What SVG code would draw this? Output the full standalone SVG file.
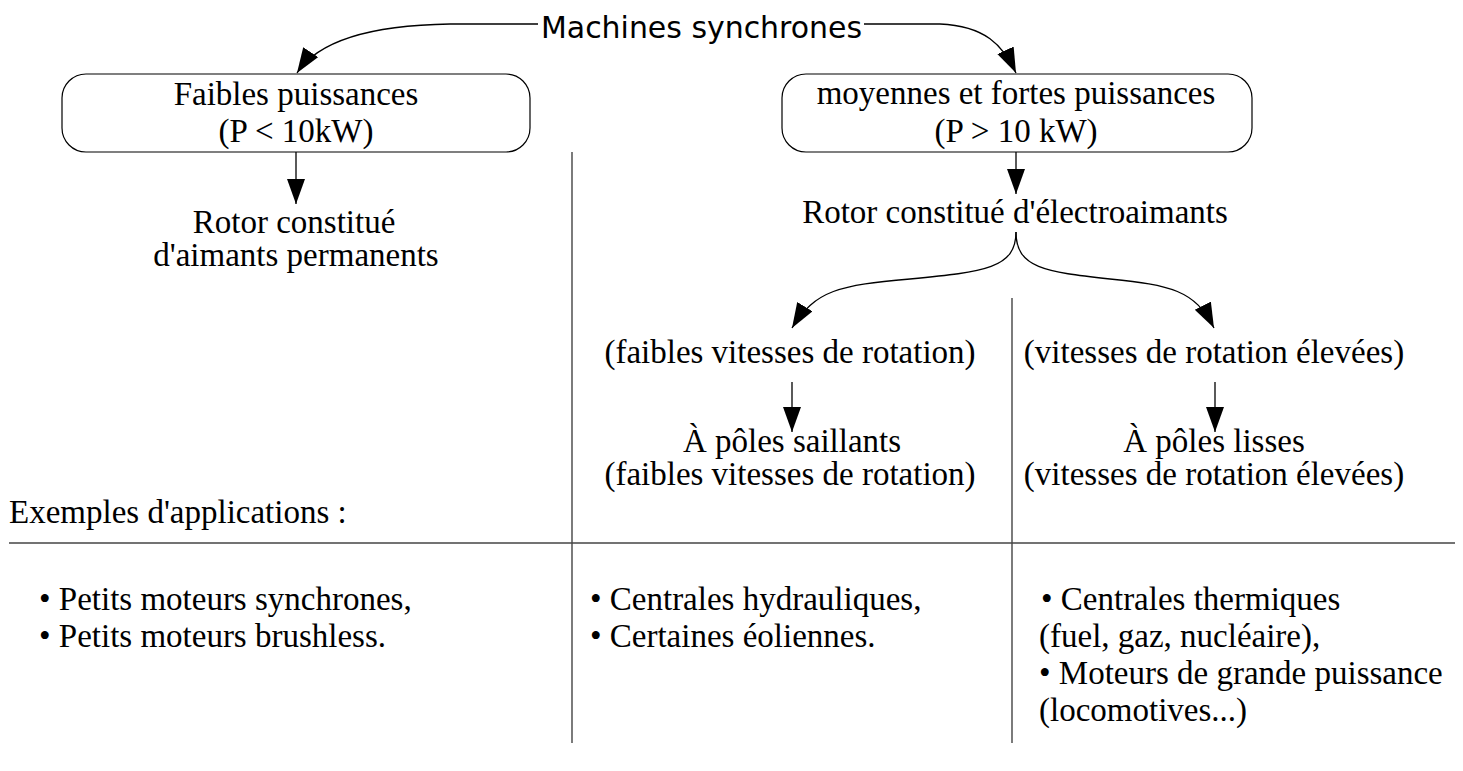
<svg xmlns="http://www.w3.org/2000/svg" width="1463" height="771" viewBox="0 0 1463 771">
<style>
.t{font-family:"Liberation Serif","Times New Roman",serif;font-size:33px;fill:#000}
.c{text-anchor:middle}
.ttl{font-family:"DejaVu Sans","Liberation Sans",sans-serif;font-size:31px;fill:#000}
.box{fill:#fff;stroke:#000;stroke-width:1.2}
.ln{fill:none;stroke:#000;stroke-width:1.3}
.div{fill:none;stroke:#444;stroke-width:1.4}
</style>
<defs>
<marker id="ah" markerUnits="userSpaceOnUse" markerWidth="28" markerHeight="20" refX="25" refY="9" orient="auto">
<path d="M0,0 L25,9 L0,18 Z" fill="#000"/>
</marker>
</defs>
<rect width="1463" height="771" fill="#fff"/>
<g id="dividers">
<line class="div" x1="572" y1="152" x2="572" y2="743"/>
<line class="div" x1="1012" y1="298" x2="1012" y2="743"/>
<line class="div" x1="9" y1="543" x2="1455" y2="543"/>
</g>
<g id="connectors">
<path class="ln" marker-end="url(#ah)" d="M538,24 L450,24 C380,25 320,38 297,73"/>
<path class="ln" marker-end="url(#ah)" d="M864,24 L940,24 C985,26 1003,45 1016,73"/>
<line class="ln" marker-end="url(#ah)" x1="296" y1="152" x2="296" y2="204"/>
<line class="ln" marker-end="url(#ah)" x1="1016" y1="152" x2="1016" y2="194"/>
<path class="ln" marker-end="url(#ah)" d="M1016,232 C1016,268 985,272 910,279 C840,285 815,290 792,328"/>
<path class="ln" marker-end="url(#ah)" d="M1016,232 C1016,268 1045,272 1110,279 C1170,285 1195,290 1214,328"/>
<line class="ln" marker-end="url(#ah)" x1="792" y1="382" x2="792" y2="432"/>
<line class="ln" marker-end="url(#ah)" x1="1215" y1="382" x2="1215" y2="432"/>
</g>
<g id="title"><text class="ttl c" x="701.5" y="38" textLength="321" lengthAdjust="spacingAndGlyphs">Machines synchrones</text></g>
<g id="faibles">
<rect class="box" x="62" y="74" width="468" height="78" rx="24"/>
<text class="t c" x="296" y="105">Faibles puissances</text>
<text class="t c" x="296" y="142">(P &lt; 10kW)</text>
</g>
<g id="fortes">
<rect class="box" x="782" y="74" width="470" height="78" rx="24"/>
<text class="t c" x="1016" y="104">moyennes et fortes puissances</text>
<text class="t c" x="1016" y="142">(P &gt; 10 kW)</text>
</g>
<g id="rotor-aimants">
<text class="t c" x="294" y="233">Rotor constitué</text>
<text class="t c" x="296" y="266">d'aimants permanents</text>
</g>
<g id="rotor-electro"><text class="t c" x="1015" y="223">Rotor constitué d'électroaimants</text></g>
<g id="faibles-vitesses"><text class="t c" x="790" y="363">(faibles vitesses de rotation)</text></g>
<g id="vitesses-elevees"><text class="t c" x="1214" y="363">(vitesses de rotation élevées)</text></g>
<g id="saillants">
<text class="t c" x="792" y="452">À pôles saillants</text>
<text class="t c" x="790" y="485">(faibles vitesses de rotation)</text>
</g>
<g id="lisses">
<text class="t c" x="1214" y="452">À pôles lisses</text>
<text class="t c" x="1214" y="485">(vitesses de rotation élevées)</text>
</g>
<g id="exemples"><text class="t" x="9" y="523">Exemples d'applications :</text></g>
<g id="app-faibles">
<text class="t" x="39" y="610">• Petits moteurs synchrones,</text>
<text class="t" x="39" y="647">• Petits moteurs brushless.</text>
</g>
<g id="app-saillants">
<text class="t" x="590" y="610">• Centrales hydrauliques,</text>
<text class="t" x="590" y="647">• Certaines éoliennes.</text>
</g>
<g id="app-lisses">
<text class="t" x="1041" y="610">• Centrales thermiques</text>
<text class="t" x="1039" y="647">(fuel, gaz, nucléaire),</text>
<text class="t" x="1039" y="684">• Moteurs de grande puissance</text>
<text class="t" x="1039" y="721">(locomotives...)</text>
</g>
</svg>
